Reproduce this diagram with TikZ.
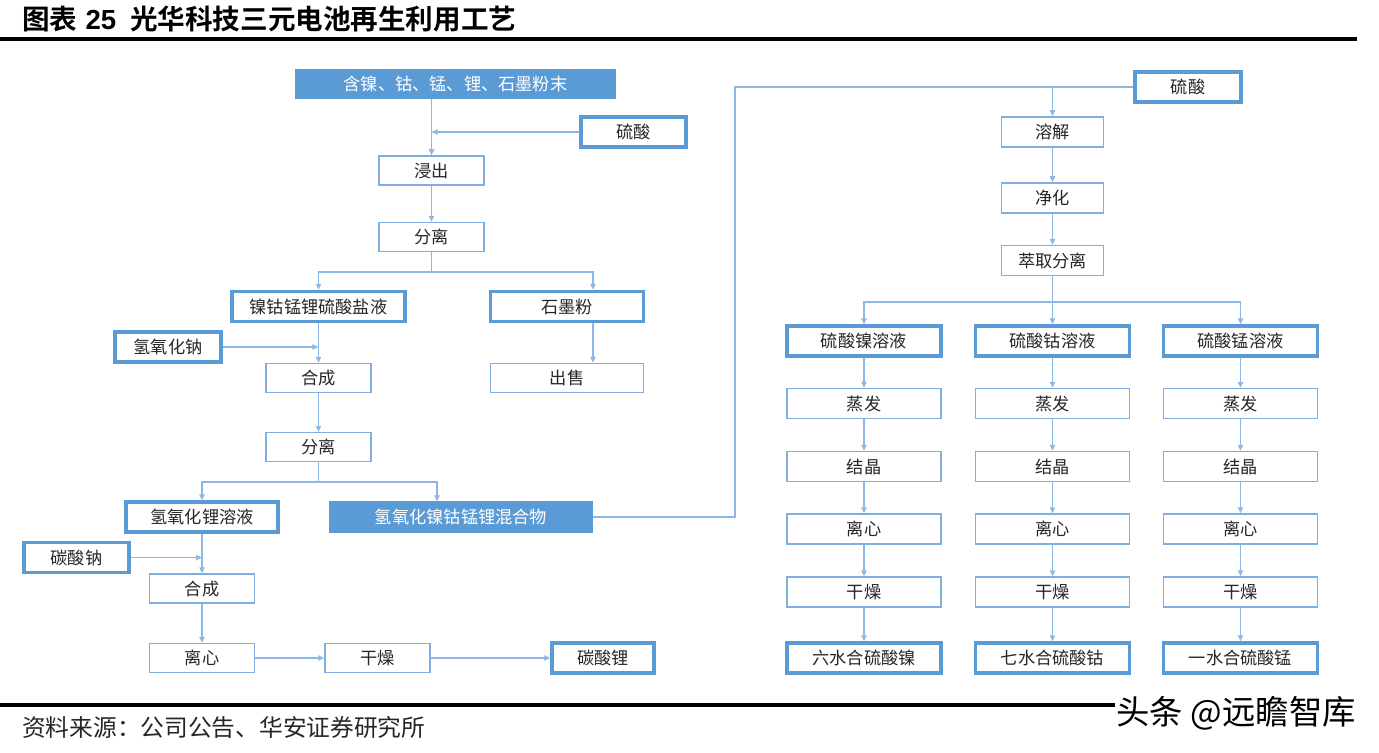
\documentclass[tikz,border=0pt]{standalone}
\usepackage{fontspec}
\usepackage{xcolor}
\usepackage{tikz}
\usetikzlibrary{arrows.meta, positioning}
\setmainfont{Noto Sans CJK SC}[BoldFont={Noto Sans CJK SC Bold}]
\newfontfamily\numfont{Liberation Sans}
\definecolor{hablue}{HTML}{5B9BD5}
\definecolor{halight}{HTML}{7FAEE0}
\definecolor{haline}{HTML}{8DB8E6}
\definecolor{hatext}{HTML}{262626}

\begin{document}
\begin{tikzpicture}[
  x=0.02cm, y=-0.02cm,
  stepbox/.style={
    rectangle,
    draw=halight,
    line width=0.7pt,
    fill=white,
    minimum width=2.1cm,
    minimum height=0.58cm,
    inner sep=0pt,
    text=hatext,
    font=\fontsize{9.8}{12}\selectfont
  },
  keybox/.style={stepbox, draw=hablue, line width=1.8pt, minimum height=0.6cm},
  fillbox/.style={stepbox, draw=hablue, fill=hablue, text=white},
  colbox/.style={stepbox, minimum width=3.08cm, minimum height=0.6cm},
  colkey/.style={keybox, minimum width=3.08cm},
  arrow/.style={-{Triangle[length=3.5pt,width=3pt]}, haline, line width=0.9pt},
  line/.style={haline, line width=0.9pt}
]
  \useasboundingbox (0,0) rectangle (1379,752);

  % Title and rules
  \node[anchor=west, font=\fontsize{15.7}{18}\selectfont\bfseries] (title) at (16,19)
    {图表\hspace{0.3em}{\numfont\bfseries 25}\hspace{0.5em}光华科技三元电池再生利用工艺};
  \draw[line width=1.8pt] (0,39) -- (1357,39);
  \draw[line width=1.8pt] (0,705) -- (1357,705);
  \node[anchor=west, font=\fontsize{13.5}{16}\selectfont, text=hatext] (source) at (16,727)
    {资料来源：公司公告、华安证券研究所};
  \node[anchor=east, fill=white, inner sep=1pt, font=\fontsize{19}{22}\selectfont] (mark) at (1358,713)
    {头条 @远瞻智库};

  % Leaching
  \node[fillbox, minimum width=6.4cm, minimum height=0.56cm] (raw) at (455.5,84) {含镍、钴、锰、锂、石墨粉末};
  \node[keybox] (acidA) at (633.5,132) {硫酸};
  \node[stepbox] (leach) at (431.5,170.5) {浸出};
  \node[stepbox] (sepA) at (431.5,237) {分离};

  % Salt solution and graphite
  \node[keybox, minimum width=3.46cm] (salt) at (318.5,306.5) {镍钴锰锂硫酸盐液};
  \node[keybox, minimum width=3.06cm] (graphite) at (567,306.5) {石墨粉};
  \node[stepbox, minimum width=3.06cm] (sale) at (567,378) {出售};
  \node[keybox, minimum width=2.12cm] (naoh) at (168,347) {氢氧化钠};
  \node[stepbox] (synA) at (318.5,378) {合成};
  \node[stepbox] (sepB) at (318.5,447) {分离};

  % Lithium branch
  \node[keybox, minimum width=3.04cm] (lioh) at (202,517) {氢氧化锂溶液};
  \node[fillbox, minimum width=5.24cm, minimum height=0.6cm] (mix) at (461,517) {氢氧化镍钴锰锂混合物};
  \node[keybox] (soda) at (76.5,557.5) {碳酸钠};
  \node[stepbox] (synB) at (202,588.5) {合成};
  \node[stepbox] (centA) at (202,658) {离心};
  \node[stepbox] (dryA) at (377.5,658) {干燥};
  \node[keybox, minimum width=2.04cm] (licarb) at (603,658) {碳酸锂};

  % Dissolving and extraction
  \node[keybox, minimum width=2.12cm] (acidB) at (1188,87) {硫酸};
  \node[stepbox, minimum width=2.04cm, minimum height=0.6cm] (diss) at (1052.5,132) {溶解};
  \node[stepbox, minimum width=2.04cm, minimum height=0.6cm] (puri) at (1052.5,198) {净化};
  \node[stepbox, minimum width=2.04cm, minimum height=0.6cm] (extr) at (1052.5,260.5) {萃取分离};

  % Nickel column
  \node[colkey] (niSol) at (864,341) {硫酸镍溶液};
  \node[colbox] (niEva) at (864,403.5) {蒸发};
  \node[colbox] (niCry) at (864,466.5) {结晶};
  \node[colbox] (niCen) at (864,529) {离心};
  \node[colbox] (niDry) at (864,592) {干燥};
  \node[colkey] (niPro) at (864,658) {六水合硫酸镍};

  % Cobalt column
  \node[colkey] (coSol) at (1052.5,341) {硫酸钴溶液};
  \node[colbox] (coEva) at (1052.5,403.5) {蒸发};
  \node[colbox] (coCry) at (1052.5,466.5) {结晶};
  \node[colbox] (coCen) at (1052.5,529) {离心};
  \node[colbox] (coDry) at (1052.5,592) {干燥};
  \node[colkey] (coPro) at (1052.5,658) {七水合硫酸钴};

  % Manganese column
  \node[colkey] (mnSol) at (1240.5,341) {硫酸锰溶液};
  \node[colbox] (mnEva) at (1240.5,403.5) {蒸发};
  \node[colbox] (mnCry) at (1240.5,466.5) {结晶};
  \node[colbox] (mnCen) at (1240.5,529) {离心};
  \node[colbox] (mnDry) at (1240.5,592) {干燥};
  \node[colkey] (mnPro) at (1240.5,658) {一水合硫酸锰};

  % Left flow
  \coordinate (gin) at ([xshift=0.52cm]graphite.north);
  \coordinate (gout) at ([xshift=0.52cm]graphite.south);
  \coordinate (mixin) at ([xshift=-0.48cm]mix.north);
  \draw[arrow] (raw.south -| leach.north) -- (leach.north);
  \draw[arrow] (acidA.west) -- (acidA.west -| leach.north);
  \draw[arrow] (leach) -- (sepA);
  \draw[arrow] (sepA.south) -- ++(0,20) -| (salt.north);
  \draw[arrow] (sepA.south) -- ++(0,20) -| (gin);
  \draw[arrow] (gout) -- (gout |- sale.north);
  \draw[arrow] (salt) -- (synA);
  \draw[arrow] (naoh.east) -- (naoh.east -| synA.north);
  \draw[arrow] (synA) -- (sepB);
  \draw[arrow] (sepB.south) -- ++(0,20) -| (lioh.north);
  \draw[arrow] (sepB.south) -- ++(0,20) -| (mixin);
  \draw[arrow] (lioh) -- (synB);
  \draw[arrow] (soda.east) -- (soda.east -| synB.north);
  \draw[arrow] (synB) -- (centA);
  \draw[arrow] (centA) -- (dryA);
  \draw[arrow] (dryA) -- (licarb);

  % Right flow
  \coordinate (turn) at (735,87);
  \draw[line] (mix.east) -| (turn) -- (acidB.west);
  \draw[arrow] (acidB.west -| diss.north) -- (diss.north);
  \draw[arrow] (diss) -- (puri);
  \draw[arrow] (puri) -- (extr);
  \draw[arrow] (extr.south) -- ++(0,26) -| (niSol.north);
  \draw[arrow] (extr.south) -- (coSol.north);
  \draw[arrow] (extr.south) -- ++(0,26) -| (mnSol.north);
  \draw[arrow] (niSol) -- (niEva);
  \draw[arrow] (niEva) -- (niCry);
  \draw[arrow] (niCry) -- (niCen);
  \draw[arrow] (niCen) -- (niDry);
  \draw[arrow] (niDry) -- (niPro);
  \draw[arrow] (coSol) -- (coEva);
  \draw[arrow] (coEva) -- (coCry);
  \draw[arrow] (coCry) -- (coCen);
  \draw[arrow] (coCen) -- (coDry);
  \draw[arrow] (coDry) -- (coPro);
  \draw[arrow] (mnSol) -- (mnEva);
  \draw[arrow] (mnEva) -- (mnCry);
  \draw[arrow] (mnCry) -- (mnCen);
  \draw[arrow] (mnCen) -- (mnDry);
  \draw[arrow] (mnDry) -- (mnPro);
\end{tikzpicture}
\end{document}
